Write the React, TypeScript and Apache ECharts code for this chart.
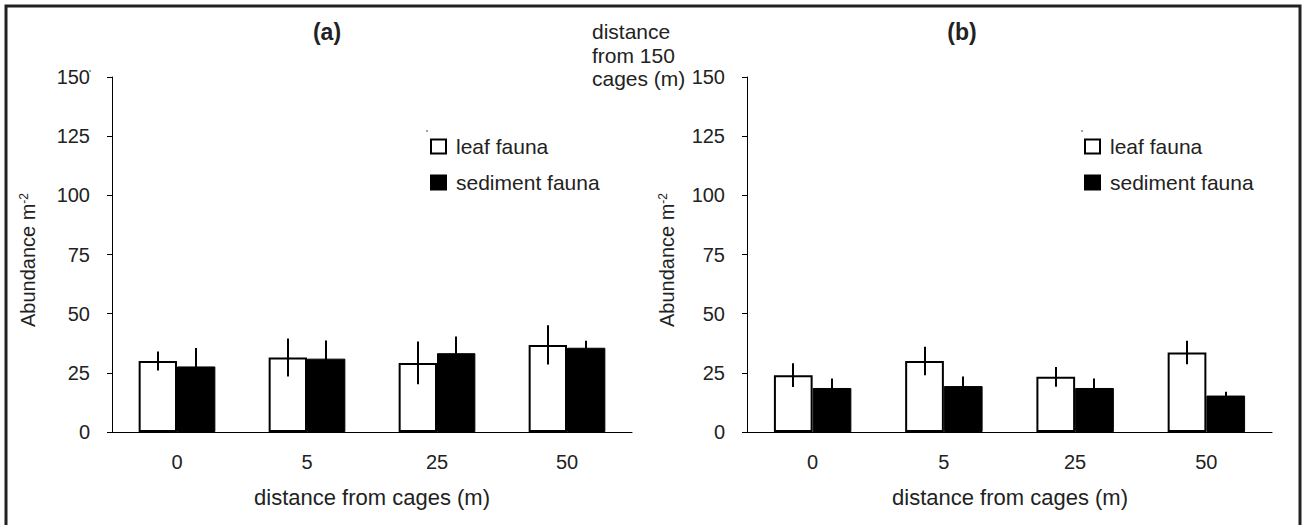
import React, { useEffect, useRef } from "react";
import * as echarts from "echarts";

const categories = ["0", "5", "25", "50"];
const leafA = [30, 31.5, 29.2, 36.8];
const leafAErr = [4, 8, 9, 8.3];
const sedA = [27.7, 31, 33.3, 35.6];
const sedAErr = [7.8, 7.7, 7, 3];
const leafB = [24, 30, 23.3, 33.6];
const leafBErr = [5, 6, 4.2, 5];
const sedB = [18.6, 19.4, 18.6, 15.4];
const sedBErr = [4, 4, 4, 1.6];
const seriesNames = ["leaf fauna", "sediment fauna"];
const panelTitles = ["(a)", "(b)"];
const xAxisTitle = "distance from cages (m)";
const yAxisTitle = "{a|Abundance m}{s|-2}";
const strayNoteLines = ["distance", "from 150", "cages (m)"];

const FONT = "'Liberation Sans', Arial, sans-serif";
const TXT = "#222";
const BAR_FRAC = 0.59;

function errSeries(ai: number, values: number[], errs: number[], side: number) {
  return {
    type: "custom",
    xAxisIndex: ai,
    yAxisIndex: ai,
    silent: true,
    z: 10,
    data: values.map((v, i) => [i, v, errs[i]]),
    encode: { x: 0, y: 1 },
    renderItem: (params: any, api: any) => {
      const i = api.value(0);
      const v = api.value(1);
      const e = api.value(2);
      const cw = api.size([1, 0])[0];
      const off = (side * cw * BAR_FRAC) / 4;
      const top = api.coord([i, v + e]);
      const bot = api.coord([i, v - e]);
      const x = Math.round(top[0] + off);
      return {
        type: "line",
        shape: { x1: x, y1: top[1], x2: x, y2: bot[1] },
        style: { stroke: "#000", lineWidth: 2 },
      };
    },
  };
}

function barSeries(ai: number, name: string, values: number[], white: boolean) {
  return {
    type: "bar",
    name,
    xAxisIndex: ai,
    yAxisIndex: ai,
    data: values,
    barGap: "0%",
    barCategoryGap: "41%",
    itemStyle: white
      ? { color: "#fff", borderColor: "#000", borderWidth: 2 }
      : { color: "#000", borderColor: "#000", borderWidth: 1 },
    emphasis: { disabled: true },
  };
}

function xAxis(ai: number) {
  return {
    type: "category",
    gridIndex: ai,
    data: categories,
    axisLine: { lineStyle: { color: "#000", width: 1 } },
    axisTick: { length: 6, lineStyle: { color: "#000" } },
    axisLabel: { fontSize: 20, color: TXT, fontFamily: FONT, margin: 20 },
  };
}

function yAxis(ai: number) {
  return {
    type: "value",
    gridIndex: ai,
    min: 0,
    max: 150,
    interval: 25,
    splitLine: { show: false },
    axisLine: { show: true, lineStyle: { color: "#000", width: 1 } },
    axisTick: { show: true, length: 5, lineStyle: { color: "#000" } },
    axisLabel: { fontSize: 20, color: TXT, fontFamily: FONT, margin: 22 },
  };
}

function legend(left: number) {
  return {
    left,
    top: 136,
    orient: "vertical",
    padding: 0,
    itemWidth: 15,
    itemHeight: 14,
    itemGap: 15,
    selectedMode: false,
    data: [
      { name: seriesNames[0], icon: "rect", itemStyle: { color: "#fff", borderColor: "#000", borderWidth: 2 } },
      { name: seriesNames[1], icon: "rect", itemStyle: { color: "#000" } },
    ],
    textStyle: { fontSize: 21, color: TXT, fontFamily: FONT, padding: [0, 0, 0, 5] },
  };
}

export default function App() {
  const ref = useRef<HTMLDivElement>(null);
  useEffect(() => {
    if (!ref.current) return;
    const chart = echarts.init(ref.current, undefined, { renderer: "svg" });
    const txt = (text: string, x: number, y: number, extra: any = {}) => ({
      type: "text",
      x,
      y,
      silent: true,
      style: {
        text,
        fontSize: 21,
        fontFamily: FONT,
        fill: TXT,
        textAlign: "center",
        textVerticalAlign: "middle",
        ...extra,
      },
    });
    const yName = (x: number, y: number) => ({
      type: "text",
      x,
      y,
      rotation: Math.PI / 2,
      silent: true,
      style: {
        text: yAxisTitle,
        fontSize: 20,
        fontFamily: FONT,
        fill: TXT,
        align: "center",
        verticalAlign: "middle",
        rich: {
          a: { fontSize: 20, fontFamily: FONT, fill: TXT },
          s: { fontSize: 12, fontFamily: FONT, fill: TXT, verticalAlign: "top" },
        },
      },
    });
    const option: any = {
      animation: false,
      backgroundColor: "#fff",
      grid: [
        { left: 112, top: 77, width: 520, height: 355 },
        { left: 747, top: 77, width: 525, height: 355 },
      ],
      xAxis: [xAxis(0), xAxis(1)],
      yAxis: [yAxis(0), yAxis(1)],
      legend: [legend(430), legend(1084)],
      series: [
        barSeries(0, seriesNames[0], leafA, true),
        barSeries(0, seriesNames[1], sedA, false),
        barSeries(1, seriesNames[0], leafB, true),
        barSeries(1, seriesNames[1], sedB, false),
        errSeries(0, leafA, leafAErr, -1),
        errSeries(0, sedA, sedAErr, 1),
        errSeries(1, leafB, leafBErr, -1),
        errSeries(1, sedB, sedBErr, 1),
      ],
      graphic: [
        {
          type: "rect",
          shape: { x: 6, y: 6, width: 1294, height: 600 },
          style: { fill: "none", stroke: "#222", lineWidth: 3 },
          silent: true,
        },
        txt(panelTitles[0], 327, 32, { fontWeight: "bold", fontSize: 23 }),
        txt(panelTitles[1], 962, 32, { fontWeight: "bold", fontSize: 23 }),
        txt(strayNoteLines[0], 592, 31, { textAlign: "left" }),
        txt(strayNoteLines[1], 592, 55, { textAlign: "left" }),
        txt(strayNoteLines[2], 592, 78, { textAlign: "left" }),
        txt(xAxisTitle, 372, 497, { fontSize: 22 }),
        txt(xAxisTitle, 1010, 497, { fontSize: 22 }),
        yName(28, 260),
        yName(667, 260),
        { type: "circle", shape: { cx: 90, cy: 71, r: 0.8 }, style: { fill: "#666" }, silent: true },
        { type: "circle", shape: { cx: 427, cy: 131, r: 0.8 }, style: { fill: "#666" }, silent: true },
        { type: "circle", shape: { cx: 1082, cy: 131, r: 0.8 }, style: { fill: "#666" }, silent: true },
      ],
    };
    chart.setOption(option);
    return () => chart.dispose();
  }, []);
  return (
    <div
      ref={ref}
      style={{ position: "absolute", left: 0, top: 0, width: 1304, height: 525 }}
    />
  );
}
